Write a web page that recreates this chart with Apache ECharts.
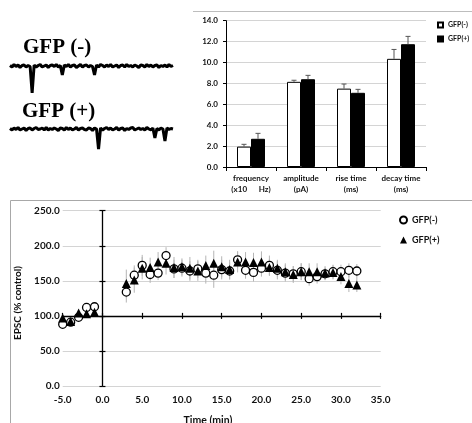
<!DOCTYPE html>
<html><head><meta charset="utf-8">
<script src="https://cdn.jsdelivr.net/npm/echarts@6/dist/echarts.min.js"></script>
<style>html,body{margin:0;padding:0;background:#fff}#c{width:472px;height:423px}</style>
</head><body><div id="c"></div>
<script>
// ---- Bar chart data ----
const barCategories = ['frequency\n(x10      Hz)', 'amplitude\n(pA)', 'rise time\n(ms)', 'decay time\n(ms)'];
const barNeg = [1.95, 8.15, 7.5, 10.35];
const barNegErr = [0.22, 0.15, 0.44, 0.9];
const barPos = [2.7, 8.4, 7.1, 11.75];
const barPosErr = [0.52, 0.37, 0.33, 0.75];

// ---- Time course data ----
const timeMin = [-5,-4,-3,-2,-1,3,4,5,6,7,8,9,10,11,12,13,14,15,16,17,18,19,20,21,22,23,24,25,26,27,28,29,30,31,32];
const epscNeg = [88,91,98,112,113,134,158,172,159,161,186,167,168,164,167,161,158,166,164,180,165,162,168,172,165,161,160,163,153,156,160,163,163,165,164];
const epscNegErr = [5,5,6,6,6,15,14,15,12,10,12,13,12,14,13,15,18,14,12,12,12,13,12,14,13,12,11,12,10,10,9,10,10,10,10];
const epscPos = [97,92,104,103,105,146,151,168,169,177,175,169,170,168,164,172,175,170,166,177,177,176,177,169,168,163,159,163,163,163,161,162,156,146,144];
const epscPosErr = [5,5,5,5,5,20,18,16,14,14,16,15,12,16,14,14,18,15,14,15,14,14,15,12,12,12,12,12,12,12,10,10,11,12,10];

// ---- Example traces (sampled every 2 units) ----
const traceDt = 2;
const traceNeg = [0.5,-1,1.5,-0.5,1,-1.5,0.5,1,-1,0.5,-0.5,
  -27,
  1,-1,0.5,1.5,-1,0,1,-1.5,0.5,1,-0.5,1.5,-1,0.5,
  -9,
  1,-0.5,1.5,-1,0.5,1,-1.5,0,1.5,-1,0.5,1,-1,0.5,-0.5,
  -9,
  1,-1,1.5,0.5,-1,1,-0.5,1.5,-1,0,1,-1.5,0.5,1,-1,1.5,-0.5,0.5,-1,1,0,-1.5,1,0.5,-1,1.5,-0.5,1,-1,0.5,1,-1.5,0.5,-0.5,1,-1,1.5,-0.5,0.5];
const tracePos = [0.5,-1,1,-0.5,1.5,-1,0,1,-1.5,0.5,1,-1,0.5,1.5,-0.5,0,1,-1,1.5,-1,0.5,-0.5,1,0,-1.5,1,0.5,-1,1.5,-0.5,1,-1,0,1.5,-1,0.5,1,-0.5,-1,1,0.5,-1.5,1,0,
  -20,
  1,-1,0.5,1.5,-0.5,1,-1,0,1.5,-1,0.5,1,-1.5,0.5,-0.5,1,1.5,-1,0,1,-0.5,0.5,-1,1.5,0,-1,1,
  -9,
  0.5,-1,1,0,
  -12,
  1,-0.5,0.5,0];

const FONT = 'Lato';
const TXT = '#111';
const BAR_W = 14;
const LINE_GRID = {left: 62.7, top: 210.7, width: 318, height: 175.3};
const Y_MAX = 250, X_CROSS_AT = 100;
const xCrossOffset = -(X_CROSS_AT / Y_MAX) * LINE_GRID.height;

function barErr(side) {
  return function (params, api) {
    const i = api.value(0), v = api.value(1), e = api.value(2);
    const b = api.coord([i, v]);
    const t = api.coord([i, v + e]);
    const x = b[0] + side * BAR_W / 2;
    return {type: 'group', children: [
      {type: 'line', shape: {x1: x, y1: b[1], x2: x, y2: t[1]}, style: {stroke: '#555', lineWidth: 1}},
      {type: 'line', shape: {x1: x - 2.5, y1: t[1], x2: x + 2.5, y2: t[1]}, style: {stroke: '#555', lineWidth: 1}}
    ]};
  };
}
function ptErr(params, api) {
  const t = api.value(0), m = api.value(1), e = api.value(2);
  const a = api.coord([t, m - e]);
  const b = api.coord([t, m + e]);
  return {type: 'line', shape: {x1: a[0], y1: a[1], x2: b[0], y2: b[1]}, style: {stroke: '#b5b5b5', lineWidth: 1}};
}

const lx = {type: 'value', gridIndex: 1, min: -5, max: 35, interval: 5, splitLine: {show: false}};
const ly = {type: 'value', gridIndex: 1, min: 0, max: Y_MAX, interval: 50};

const option = {
  animation: false,
  backgroundColor: '#fff',
  grid: [
    {left: 226, top: 20.7, width: 200, height: 146.3},
    LINE_GRID,
    {left: 10, top: 61, width: 163, height: 35},
    {left: 10, top: 124, width: 163, height: 30}
  ],
  xAxis: [
    {type: 'category', gridIndex: 0, data: barCategories,
     axisLine: {lineStyle: {color: '#000', width: 1}},
     axisTick: {show: true, length: 4, lineStyle: {color: '#000'}},
     axisLabel: {interval: 0, fontSize: 8, lineHeight: 11, margin: 6, color: TXT, fontFamily: FONT, fontWeight: 'bold'}},
    Object.assign({}, lx, {position: 'bottom', axisLine: {show: false, onZero: false}, axisTick: {show: false},
      axisLabel: {formatter: v => v.toFixed(1), fontSize: 10, margin: 9, color: TXT, fontFamily: FONT, fontWeight: 'bold'}}),
    Object.assign({}, lx, {position: 'bottom', offset: xCrossOffset,
      axisLine: {show: true, onZero: false, lineStyle: {color: '#000', width: 1.3}},
      axisTick: {show: true, length: 3, lineStyle: {color: '#000', width: 1.2}}, axisLabel: {show: false}}),
    Object.assign({}, lx, {position: 'bottom', offset: xCrossOffset,
      axisLine: {show: false, onZero: false},
      axisTick: {show: true, inside: true, length: 3, lineStyle: {color: '#000', width: 1.2}}, axisLabel: {show: false}}),
    {type: 'value', gridIndex: 2, min: 0, max: 162, show: false},
    {type: 'value', gridIndex: 3, min: 0, max: 162, show: false}
  ],
  yAxis: [
    {type: 'value', gridIndex: 0, min: 0, max: 14, interval: 2,
     axisLine: {show: true, lineStyle: {color: '#000', width: 1}},
     axisTick: {show: true, length: 3, lineStyle: {color: '#000'}},
     splitLine: {lineStyle: {color: '#d4d4d4', width: 1}},
     axisLabel: {formatter: v => v.toFixed(1), fontSize: 8, margin: 8, color: TXT, fontFamily: FONT, fontWeight: 'bold'}},
    Object.assign({}, ly, {position: 'left', axisLine: {show: false, onZero: false}, axisTick: {show: false},
      splitLine: {show: true, lineStyle: {color: '#d4d4d4', width: 1}},
      axisLabel: {formatter: v => v.toFixed(1), fontSize: 10, margin: 3, color: TXT, fontFamily: FONT, fontWeight: 'bold'}}),
    Object.assign({}, ly, {position: 'left', splitLine: {show: false},
      axisLine: {show: true, onZero: true, lineStyle: {color: '#000', width: 1.3}},
      axisTick: {show: true, length: 3, lineStyle: {color: '#000', width: 1.2}}, axisLabel: {show: false}}),
    Object.assign({}, ly, {position: 'left', splitLine: {show: false},
      axisLine: {show: false, onZero: true},
      axisTick: {show: true, inside: true, length: 3, lineStyle: {color: '#000', width: 1.2}}, axisLabel: {show: false}}),
    {type: 'value', gridIndex: 2, min: -30, max: 5, show: false},
    {type: 'value', gridIndex: 3, min: -25, max: 5, show: false}
  ],
  legend: [
    {data: ['GFP(-)', 'GFP(+)'], orient: 'vertical', left: 437, top: 21.5, padding: 0, icon: 'rect',
     itemWidth: 5, itemHeight: 5, itemGap: 7,
     textStyle: {fontSize: 7, color: TXT, fontFamily: FONT, fontWeight: 'bold'}},
    {data: ['sGFP(-)', 'sGFP(+)'], orient: 'vertical', left: 399, top: 215.5, padding: 0,
     itemWidth: 7, itemHeight: 7, itemGap: 11, formatter: n => n.replace(/^s/, ''),
     textStyle: {fontSize: 9, color: TXT, fontFamily: FONT, fontWeight: 'bold'}}
  ],
  series: [
    {name: 'GFP(-)', type: 'bar', xAxisIndex: 0, yAxisIndex: 0, data: barNeg, barWidth: BAR_W, barGap: '0%',
     itemStyle: {color: '#fff', borderColor: '#000', borderWidth: 1}},
    {name: 'GFP(+)', type: 'bar', xAxisIndex: 0, yAxisIndex: 0, data: barPos, barWidth: BAR_W, barGap: '0%',
     itemStyle: {color: '#000', borderColor: '#000', borderWidth: 1}},
    {type: 'custom', xAxisIndex: 0, yAxisIndex: 0, renderItem: barErr(-1), z: 5,
     data: barNeg.map((v, i) => [i, v, barNegErr[i]])},
    {type: 'custom', xAxisIndex: 0, yAxisIndex: 0, renderItem: barErr(1), z: 5,
     data: barPos.map((v, i) => [i, v, barPosErr[i]])},
    {type: 'custom', xAxisIndex: 1, yAxisIndex: 1, renderItem: ptErr, z: 1,
     data: timeMin.map((t, i) => [t, epscNeg[i], epscNegErr[i]])},
    {type: 'custom', xAxisIndex: 1, yAxisIndex: 1, renderItem: ptErr, z: 1,
     data: timeMin.map((t, i) => [t, epscPos[i], epscPosErr[i]])},
    {name: 'sGFP(-)', type: 'scatter', xAxisIndex: 1, yAxisIndex: 1, symbol: 'circle', symbolSize: 8, z: 3,
     itemStyle: {color: '#fff', borderColor: '#000', borderWidth: 1.3, opacity: 1},
     data: timeMin.map((t, i) => [t, epscNeg[i]])},
    {name: 'sGFP(+)', type: 'scatter', xAxisIndex: 1, yAxisIndex: 1, symbol: 'triangle', symbolSize: 9, z: 4,
     itemStyle: {color: '#000', opacity: 1},
     data: timeMin.map((t, i) => [t, epscPos[i]])},
    {type: 'line', xAxisIndex: 4, yAxisIndex: 4, showSymbol: false, symbol: 'none',
     lineStyle: {color: '#000', width: 3}, data: traceNeg.map((v, i) => [i * traceDt, v])},
    {type: 'line', xAxisIndex: 5, yAxisIndex: 5, showSymbol: false, symbol: 'none',
     lineStyle: {color: '#000', width: 3}, data: tracePos.map((v, i) => [i * traceDt, v])}
  ],
  graphic: [
    {type: 'line', z: -1, shape: {x1: 193, y1: 11.5, x2: 472, y2: 11.5}, style: {stroke: '#bdbdbd', lineWidth: 1}},
    {type: 'polyline', z: -1, shape: {points: [[10.5, 423], [10.5, 200.5], [472, 200.5]]}, style: {stroke: '#a8a8a8', lineWidth: 1, fill: null}},
    {type: 'text', x: 23, y: 47.5, style: {text: 'GFP (-)', font: 'bold 21px "Liberation Serif"', fill: '#000', verticalAlign: 'middle', align: 'left'}},
    {type: 'text', x: 22, y: 111.5, style: {text: 'GFP (+)', font: 'bold 21px "Liberation Serif"', fill: '#000', verticalAlign: 'middle', align: 'left'}},
    {type: 'text', x: 17.5, y: 303, rotation: Math.PI / 2, style: {text: 'EPSC (% control)', font: 'bold 10px Lato', fill: TXT, align: 'center', verticalAlign: 'middle'}},
    {type: 'text', x: 208, y: 421, style: {text: 'Time (min)', font: 'bold 10.5px Lato', fill: TXT, align: 'center', verticalAlign: 'middle'}}
  ]
};
const chart = echarts.init(document.getElementById('c'), null, {renderer: 'canvas'});
chart.setOption(option);
</script></body></html>
